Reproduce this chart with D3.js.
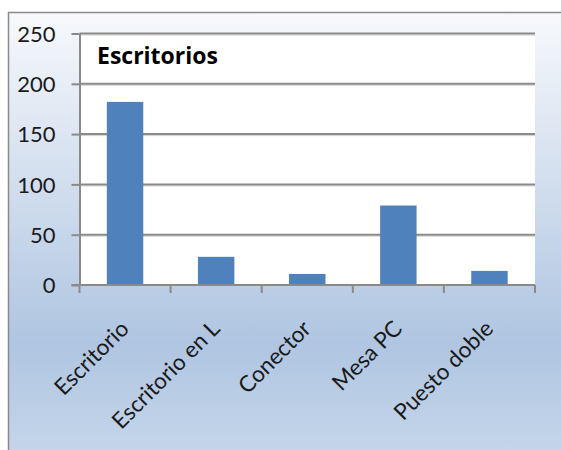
<!DOCTYPE html>
<html><head><meta charset="utf-8">
<script src="https://cdn.jsdelivr.net/npm/d3@7"></script>
<style>html,body{margin:0;padding:0;background:#fff;}svg{display:block;}</style>
</head><body>
<script>
const categories = ["Escritorio", "Escritorio en L", "Conector", "Mesa PC", "Puesto doble"];
const values = [182, 28, 11, 79, 14];
const yTicks = [0, 50, 100, 150, 200, 250];
const title = "Escritorios";

const W = 561, H = 450;
const svg = d3.select("body").append("svg").attr("width", W).attr("height", H);
const defs = svg.append("defs");
const grad = defs.append("linearGradient").attr("id", "bg").attr("x1", 0).attr("y1", 0).attr("x2", 0).attr("y2", 1);
grad.append("stop").attr("offset", "0").attr("stop-color", "#f7f9fc");
grad.append("stop").attr("offset", "0.72").attr("stop-color", "#afc5e1");
grad.append("stop").attr("offset", "1").attr("stop-color", "#c9d9ec");

// chart area frame
svg.append("rect").attr("x", 8.5).attr("y", 12.5).attr("width", 600).attr("height", 460)
  .attr("fill", "url(#bg)").attr("stroke", "#8a8a8a").attr("stroke-width", 1.5);

const plot = {left: 79.5, right: 535, top: 33.5, bottom: 285};
const x = d3.scaleBand().domain(categories).range([plot.left, plot.right]).paddingInner(0.6).paddingOuter(0.3);
const xb = d3.scaleBand().domain(categories).range([plot.left, plot.right]);
const y = d3.scaleLinear().domain([0, 250]).range([plot.bottom, plot.top]);

svg.append("rect").attr("x", plot.left).attr("y", plot.top)
  .attr("width", plot.right - plot.left).attr("height", plot.bottom - plot.top).attr("fill", "#ffffff");

// gridlines
const grid = svg.append("g");
grid.selectAll("line.g2").data(yTicks.filter(d => d > 0)).join("line")
  .attr("x1", plot.left).attr("x2", plot.right)
  .attr("y1", d => y(d) + 1.5).attr("y2", d => y(d) + 1.5)
  .attr("stroke", "#d0d0d0").attr("stroke-width", 1);
grid.selectAll("line.g1").data(yTicks.filter(d => d > 0)).join("line")
  .attr("x1", plot.left).attr("x2", plot.right)
  .attr("y1", d => y(d)).attr("y2", d => y(d))
  .attr("stroke", "#8a8a8a").attr("stroke-width", 2);

// bars
svg.append("g").selectAll("rect").data(values).join("rect")
  .attr("x", (d, i) => x(categories[i]))
  .attr("width", x.bandwidth())
  .attr("y", d => y(d))
  .attr("height", d => y(0) - y(d))
  .attr("fill", "#4f81bd");

// y axis
const yAxis = d3.axisLeft(y).tickValues(yTicks).tickSize(8).tickPadding(16).tickSizeOuter(0);
const ya = svg.append("g").attr("transform", `translate(${plot.left},0)`).call(yAxis);
ya.select(".domain").attr("stroke", "#8a8a8a").attr("stroke-width", 2);
ya.selectAll(".tick line").attr("stroke", "#8a8a8a").attr("stroke-width", 2);
ya.selectAll(".tick text").attr("fill", "#1a1a1a").attr("font-family", "Lato, 'Open Sans', sans-serif").attr("font-size", 22).attr("dy", "0.35em");

// x axis
const xTickPos = categories.map((c, i) => xb(c)).concat([plot.right]);
const xa = svg.append("g");
xa.append("line").attr("x1", plot.left - 8).attr("x2", plot.right).attr("y1", plot.bottom).attr("y2", plot.bottom)
  .attr("stroke", "#8a8a8a").attr("stroke-width", 2);
xa.selectAll("line.t").data(xTickPos).join("line")
  .attr("x1", d => d).attr("x2", d => d).attr("y1", plot.bottom).attr("y2", plot.bottom + 8)
  .attr("stroke", "#8a8a8a").attr("stroke-width", 2);
xa.selectAll("text").data(categories).join("text")
  .attr("transform", d => `translate(${xb(d) + xb.bandwidth() / 2 - 6},${plot.bottom + 34}) rotate(-45)`)
  .attr("text-anchor", "end").attr("dy", "0.7em")
  .attr("font-family", "Lato, 'Open Sans', sans-serif").attr("font-size", 22.5).attr("fill", "#1a1a1a")
  .text(d => d);

// title
svg.append("text").attr("x", 97).attr("y", 64)
  .attr("font-family", "'Open Sans', Lato, sans-serif").attr("font-weight", "bold").attr("font-size", 23)
  .attr("fill", "#000").text(title);
</script>
</body></html>
